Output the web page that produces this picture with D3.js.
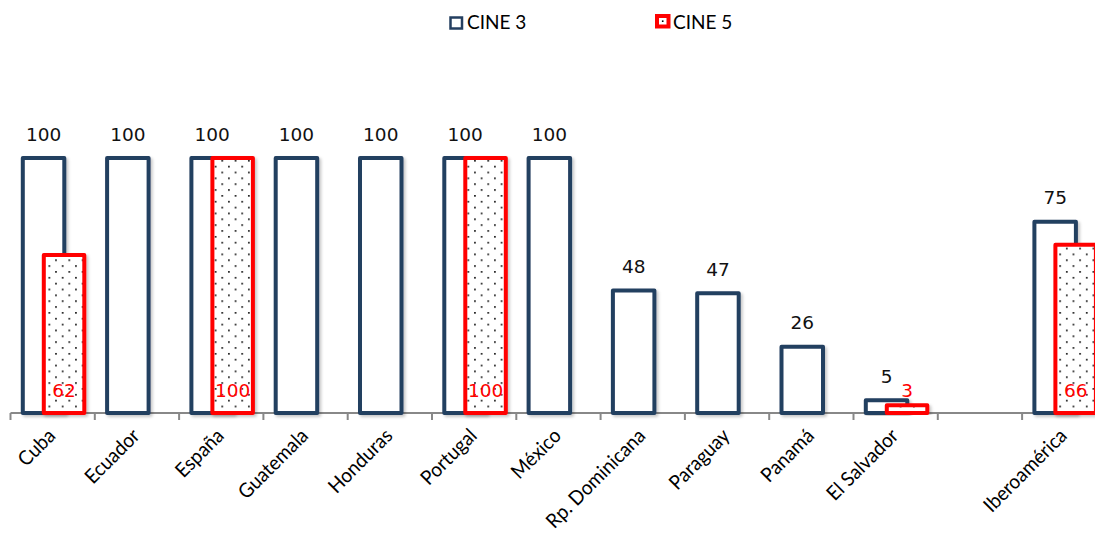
<!DOCTYPE html>
<html>
<head>
<meta charset="utf-8">
<script src="https://cdn.jsdelivr.net/npm/d3@7"></script>
<style>
  html, body { margin: 0; padding: 0; background: #fff; }
  svg { display: block; }
</style>
</head>
<body>
<div id="chart"></div>
<script>
// Categories (the blank slot separates the countries from the regional total)
const categories = ["Cuba", "Ecuador", "España", "Guatemala", "Honduras", "Portugal", "México",
  "Rp. Dominicana", "Paraguay", "Panamá", "El Salvador", " ", "Iberoamérica"];
const seriesNames = ["CINE 3", "CINE 5"];
const cine3 = [100, 100, 100, 100, 100, 100, 100, 48, 47, 26, 5, null, 75];
const cine5 = [62, null, 100, null, null, 100, null, null, null, null, 3, null, 66];

const W = 1095, H = 534;
const navy = "#243F60", red = "#FF0000";

const svg = d3.select("#chart").append("svg")
  .attr("width", W).attr("height", H);

const defs = svg.append("defs");

// soft shadow under the bars
const f = defs.append("filter").attr("id", "shadow")
  .attr("x", "-20%").attr("y", "-20%").attr("width", "140%").attr("height", "140%");
f.append("feDropShadow").attr("dx", 2).attr("dy", 2).attr("stdDeviation", 1.5)
  .attr("flood-color", "#000").attr("flood-opacity", 0.22);

// dotted fill of the CINE 5 bars
const pat = defs.append("pattern").attr("id", "dots")
  .attr("patternUnits", "userSpaceOnUse").attr("width", 13.3).attr("height", 11.7);
pat.append("rect").attr("width", 13.3).attr("height", 11.7).attr("fill", "#fff");
pat.append("rect").attr("x", 2).attr("y", 2).attr("width", 1.6).attr("height", 1.6).attr("fill", "#000");
pat.append("rect").attr("x", 8.65).attr("y", 7.85).attr("width", 1.6).attr("height", 1.6).attr("fill", "#000");

const x = d3.scaleBand().domain(categories).range([10.5, 10.5 + categories.length * 84.3]).padding(0);
const y = d3.scaleLinear().domain([0, 100]).range([413, 158]);

const rows = categories.map((c, i) => ({ c, v3: cine3[i], v5: cine5[i] }));

// category axis with ticks between categories
const axisG = svg.append("g");
axisG.append("line")
  .attr("x1", x.range()[0]).attr("x2", W + 5)
  .attr("y1", y(0)).attr("y2", y(0))
  .attr("stroke", "#888").attr("stroke-width", 2);
axisG.selectAll("line.tick").data(categories).join("line").attr("class", "tick")
  .attr("x1", d => x(d)).attr("x2", d => x(d))
  .attr("y1", y(0)).attr("y2", y(0) + 7)
  .attr("stroke", "#888").attr("stroke-width", 2);

// rotated category names, slightly condensed
axisG.selectAll("text.cat").data(categories).join("text").attr("class", "cat")
  .attr("transform", d => `translate(${x(d) + x.bandwidth() / 2 + 4},${y(0) + 24}) rotate(-45) scale(0.95,1)`)
  .attr("text-anchor", "end")
  .attr("font-family", "Lato, 'Open Sans', sans-serif")
  .attr("font-size", 20)
  .attr("fill", "#000")
  .text(d => d.trim());

// CINE 3 bars
const b3 = rows.filter(d => d.v3 != null);
svg.append("g").selectAll("rect").data(b3).join("rect")
  .attr("x", d => x(d.c) + 12.3).attr("width", 41.5)
  .attr("y", d => y(d.v3)).attr("height", d => y(0) - y(d.v3))
  .attr("fill", "#fff").attr("stroke", navy).attr("stroke-width", 4)
  .attr("stroke-linejoin", "round")
  .attr("filter", "url(#shadow)");

// CINE 5 bars
const b5 = rows.filter(d => d.v5 != null);
svg.append("g").selectAll("rect").data(b5).join("rect")
  .attr("x", d => x(d.c) + 33.3).attr("width", 40.5)
  .attr("y", d => y(d.v5)).attr("height", d => y(0) - y(d.v5))
  .attr("fill", "url(#dots)").attr("stroke", red).attr("stroke-width", 4)
  .attr("stroke-linejoin", "round")
  .attr("filter", "url(#shadow)");

// value labels
svg.append("g").selectAll("text").data(b3).join("text")
  .attr("x", d => x(d.c) + 12.3 + 41.5 / 2)
  .attr("y", d => y(d.v3) - 17.5)
  .attr("text-anchor", "middle")
  .attr("font-family", "'DejaVu Sans', Verdana, sans-serif")
  .attr("font-size", 18.5).attr("fill", "#111")
  .text(d => d.v3);

svg.append("g").selectAll("text").data(b5).join("text")
  .attr("x", d => x(d.c) + 33.3 + 40.5 / 2)
  .attr("y", 396.5)
  .attr("text-anchor", "middle")
  .attr("font-family", "'DejaVu Sans', Verdana, sans-serif")
  .attr("font-size", 18.5).attr("fill", red)
  .text(d => d.v5);

// legend
const leg = svg.append("g").attr("font-family", "Lato, 'Open Sans', sans-serif").attr("font-size", 19);
const l3 = leg.append("g");
l3.append("rect").attr("x", 450.5).attr("y", 17.5).attr("width", 11.5).attr("height", 11)
  .attr("fill", "#fff").attr("stroke", navy).attr("stroke-width", 2.5);
l3.append("text").attr("x", 467).attr("y", 28.5).attr("fill", "#000").text(seriesNames[0]);

const l5 = leg.append("g");
l5.append("rect").attr("x", 657).attr("y", 16).attr("width", 11.5).attr("height", 10.5)
  .attr("fill", "#fff").attr("stroke", red).attr("stroke-width", 4);
l5.append("rect").attr("x", 661.9).attr("y", 20.4).attr("width", 1.6).attr("height", 1.6).attr("fill", "#000");
l5.append("text").attr("x", 673).attr("y", 28.5).attr("fill", "#000").text(seriesNames[1]);
</script>
</body>
</html>
